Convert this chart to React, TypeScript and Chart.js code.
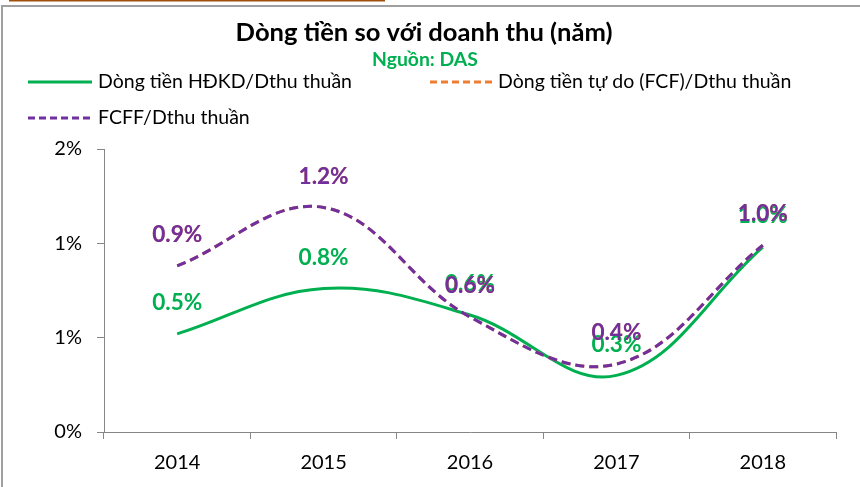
import React, { useEffect, useRef } from "react";
import { Chart, registerables } from "chart.js";

Chart.register(...registerables);

// ---- data ----
const categories = ["2014", "2015", "2016", "2017", "2018"];
const hdkdRatio = [0.52, 0.76, 0.62, 0.3, 0.98];
const fcfRatio = [0.88, 1.19, 0.61, 0.36, 0.99];
const fcffRatio = [0.88, 1.19, 0.61, 0.36, 0.99];
const seriesNames = [
  "Dòng tiền HĐKD/Dthu thuần",
  "Dòng tiền tự do (FCF)/Dthu thuần",
  "FCFF/Dthu thuần",
];
const chartTitle = "Dòng tiền so với doanh thu (năm)";
const chartSubtitle = "Nguồn: DAS";
const yMin = 0;
const yMax = 1.5;
const yStep = 0.5;

// ---- styles ----
const FONT = "Lato, 'Open Sans', sans-serif";
const GREEN = "#00B050";
const ORANGE = "#ED7D31";
const PURPLE = "#7030A0";
const AXIS = "#868686";
const seriesColors = [GREEN, ORANGE, PURPLE];
const seriesDash: number[][] = [[], [9, 5], [9, 5]];
const seriesOrder = [2, 1, 0];

const legendLayout = [
  { x0: 28, x1: 92, y: 82, tx: 98 },
  { x0: 430, x1: 493, y: 82, tx: 498 },
  { x0: 28, x1: 92, y: 118, tx: 98 },
];

function fitSize(ctx: CanvasRenderingContext2D, text: string, weight: string, target: number) {
  ctx.font = `${weight} 20px ${FONT}`;
  const w = ctx.measureText(text).width;
  return (20 * target) / w;
}

const overlayPlugin = {
  id: "overlay",
  afterDatasetsDraw(chart: any) {
    const ctx: CanvasRenderingContext2D = chart.ctx;
    ctx.save();
    const size = fitSize(ctx, "0.9%", "bold", 50);
    ctx.font = `bold ${size}px ${FONT}`;
    ctx.textAlign = "center";
    ctx.textBaseline = "middle";
    chart.data.datasets.forEach((ds: any, di: number) => {
      const meta = chart.getDatasetMeta(di);
      meta.data.forEach((pt: any, i: number) => {
        const v = ds.data[i] as number;
        ctx.fillStyle = seriesColors[di];
        ctx.fillText(v.toFixed(1) + "%", pt.x, pt.y - 31);
      });
    });
    ctx.restore();
  },
  afterDraw(chart: any) {
    const ctx: CanvasRenderingContext2D = chart.ctx;
    ctx.save();
    // frame
    ctx.strokeStyle = "#A0A0A0";
    ctx.lineWidth = 2;
    ctx.beginPath();
    ctx.moveTo(2, 487);
    ctx.lineTo(2, 6);
    ctx.lineTo(860, 6);
    ctx.stroke();
    ctx.strokeStyle = "#A0500A";
    ctx.lineWidth = 2;
    ctx.beginPath();
    ctx.moveTo(9, 0.5);
    ctx.lineTo(385, 0.5);
    ctx.stroke();

    // title
    ctx.textAlign = "center";
    ctx.textBaseline = "middle";
    ctx.fillStyle = "#000";
    ctx.font = `bold ${fitSize(ctx, chartTitle, "bold", 377)}px ${FONT}`;
    ctx.fillText(chartTitle, 424, 33);
    ctx.fillStyle = GREEN;
    ctx.font = `bold ${fitSize(ctx, chartSubtitle, "bold", 106)}px ${FONT}`;
    ctx.fillText(chartSubtitle, 425, 60);

    // legend
    const lsize = fitSize(ctx, seriesNames[0], "normal", 254);
    ctx.textAlign = "left";
    legendLayout.forEach((l, i) => {
      ctx.strokeStyle = seriesColors[i];
      ctx.lineWidth = 3;
      ctx.setLineDash(seriesDash[i].length ? [7, 4] : []);
      ctx.beginPath();
      ctx.moveTo(l.x0, l.y);
      ctx.lineTo(l.x1, l.y);
      ctx.stroke();
      ctx.setLineDash([]);
      ctx.fillStyle = "#000";
      ctx.font = `normal ${lsize}px ${FONT}`;
      ctx.fillText(seriesNames[i], l.tx, l.y);
    });
    ctx.restore();
  },
};

export default function App() {
  const ref = useRef<HTMLCanvasElement | null>(null);
  useEffect(() => {
    document.body.style.margin = "0";
    const canvas = ref.current!;
    const seriesValues = [hdkdRatio, fcfRatio, fcffRatio];
    const chart = new Chart(canvas, {
      type: "line",
      data: {
        labels: categories,
        datasets: seriesValues.map((vals, i) => ({
          label: seriesNames[i],
          data: vals,
          order: seriesOrder[i],
          borderColor: seriesColors[i],
          backgroundColor: seriesColors[i],
          borderWidth: 3,
          borderDash: seriesDash[i],
          pointRadius: 0,
          tension: 0.38,
          fill: false,
        })),
      },
      options: {
        responsive: false,
        animation: false,
        devicePixelRatio: 1,
        layout: { padding: { top: 149, right: 24, bottom: 0, left: 0 } },
        plugins: {
          legend: { display: false },
          title: { display: false },
          tooltip: { enabled: false },
        },
        scales: {
          x: {
            offset: true,
            grid: {
              offset: true,
              drawOnChartArea: false,
              drawTicks: true,
              tickLength: 7,
              color: AXIS,
            },
            border: { display: true, color: AXIS, width: 1 },
            ticks: {
              color: "#000",
              font: { family: FONT, size: 20 },
              padding: 12,
              maxRotation: 0,
            },
            afterFit(s: any) {
              s.height = 55;
            },
          },
          y: {
            min: yMin,
            max: yMax,
            grid: {
              drawOnChartArea: false,
              drawTicks: true,
              tickLength: 7,
              color: AXIS,
            },
            border: { display: true, color: AXIS, width: 1 },
            ticks: {
              stepSize: yStep,
              color: "#000",
              font: { family: FONT, size: 20 },
              padding: 15,
              callback: (v: any) => Math.round(Number(v)) + "%",
            },
            afterFit(s: any) {
              s.width = 104;
            },
          },
        },
      },
      plugins: [overlayPlugin],
    });
    return () => chart.destroy();
  }, []);
  return (
    <canvas
      ref={ref}
      width={860}
      height={487}
      style={{ display: "block", width: 860, height: 487 }}
    />
  );
}
